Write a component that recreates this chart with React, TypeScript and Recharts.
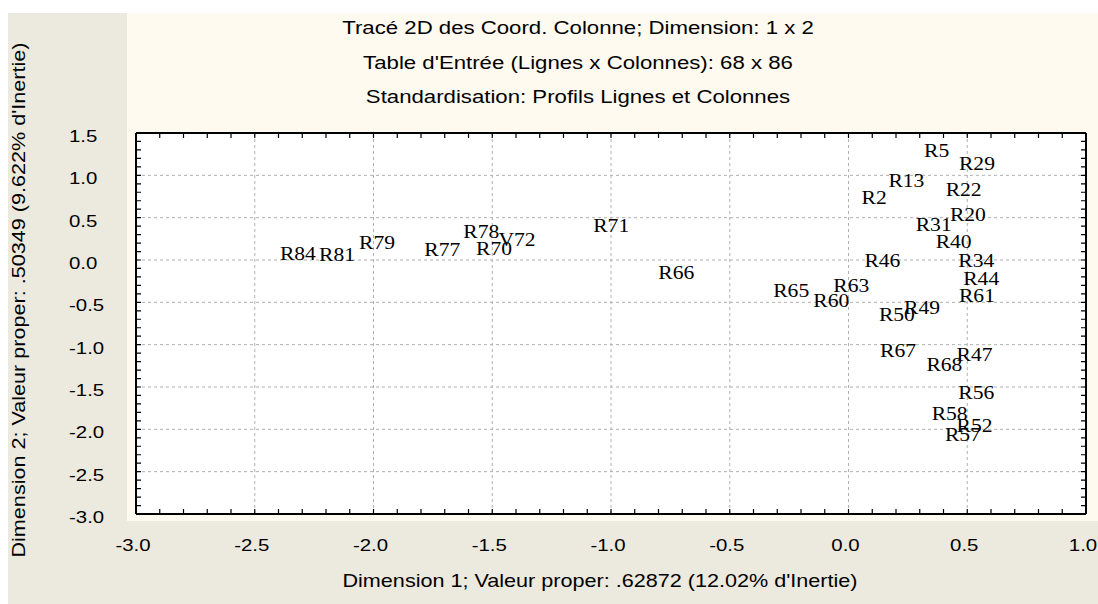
import React from 'react';
import { ScatterChart, Scatter, XAxis, YAxis, CartesianGrid } from 'recharts';

const titleLines = [
  'Tracé 2D des Coord. Colonne; Dimension: 1 x 2',
  "Table d'Entrée (Lignes x Colonnes): 68 x 86",
  'Standardisation: Profils Lignes et Colonnes',
];
const xTitle = "Dimension 1; Valeur proper: .62872 (12.02% d'Inertie)";
const yTitle = "Dimension 2; Valeur proper: .50349 (9.622% d'Inertie)";

const xTicks = [-3, -2.5, -2, -1.5, -1, -0.5, 0, 0.5, 1];
const yTicks = [1.5, 1, 0.5, 0, -0.5, -1, -1.5, -2, -2.5, -3];

const labels = [
  'R5', 'R29', 'R13', 'R22', 'R2', 'R20', 'R31', 'R40', 'R46', 'R34', 'R44',
  'R63', 'R65', 'R61', 'R60', 'R49', 'R50', 'R67', 'R47', 'R68', 'R56', 'R58',
  'R52', 'R57', 'R84', 'R81', 'R79', 'R77', 'R78', 'V72', 'R70', 'R71', 'R66',
];
const dim1 = [
  0.318, 0.465, 0.168, 0.409, 0.055, 0.427, 0.283, 0.367, 0.067, 0.462, 0.483,
  -0.064, -0.317, 0.465, -0.148, 0.234, 0.128, 0.133, 0.455, 0.328, 0.462, 0.35,
  0.455, 0.406, -2.394, -2.229, -2.061, -1.786, -1.622, -1.474, -1.568, -1.075, -0.801,
];
const dim2 = [
  1.29, 1.143, 0.937, 0.827, 0.736, 0.532, 0.414, 0.217, -0.011, -0.011, -0.224,
  -0.303, -0.365, -0.424, -0.483, -0.563, -0.641, -1.074, -1.121, -1.239, -1.566, -1.81,
  -1.959, -2.065, 0.08, 0.068, 0.205, 0.119, 0.335, 0.237, 0.13, 0.406, -0.149,
];

const points = labels.map((name, i) => ({ name, x: dim1[i], y: dim2[i] }));

// minor tick positions every 0.1
const minorX: number[] = [];
for (let i = -30; i <= 10; i++) minorX.push(i / 10);
const minorY: number[] = [];
for (let i = -30; i <= 15; i++) minorY.push(i / 10);

const isMajor = (v: number) => Math.abs(v * 2 - Math.round(v * 2)) < 1e-6;

const SANS = '"Liberation Sans", Arial, sans-serif';
const SERIF = '"Liberation Serif", "Times New Roman", serif';
const STRETCH = 1.2;
const PLOT = { left: 136, right: 1086, top: 133, bottom: 514 };
const TICK = 5;

function SText({ x, y, size, children, anchor = 'middle', family = SANS, rotate = 0 }: any) {
  return (
    <g transform={`translate(${x},${y}) rotate(${rotate}) scale(${STRETCH},1)`}>
      <text x={0} y={0} textAnchor={anchor} dominantBaseline="central" fontSize={size} fontFamily={family} fill="#000">
        {children}
      </text>
    </g>
  );
}

// bottom axis tick: inward tick marks on bottom and top edges, label on majors
const XTick = (props: any) => {
  const v = props.payload.value;
  const x = props.x;
  return (
    <g>
      <path d={`M${x},${PLOT.bottom}V${PLOT.bottom - TICK}M${x},${PLOT.top}V${PLOT.top + TICK}`} stroke="#000" strokeWidth={1.2} fill="none" />
      {isMajor(v) && <SText x={x - 3} y={545} size={17}>{v.toFixed(1)}</SText>}
    </g>
  );
};

const YTick = (props: any) => {
  const v = props.payload.value;
  const y = props.y;
  return (
    <g>
      <path d={`M${PLOT.left},${y}H${PLOT.left + TICK}M${PLOT.right},${y}H${PLOT.right - TICK}`} stroke="#000" strokeWidth={1.2} fill="none" />
      {isMajor(v) && <SText x={69} y={y + 3} size={17} anchor="start">{v.toFixed(1)}</SText>}
    </g>
  );
};
const NoLabel = () => <g />;

const PointLabel = (props: any) => (
  <SText x={props.cx} y={props.cy} size={18} anchor="start" family={SERIF}>{props.payload.name}</SText>
);

const frame = { stroke: '#000', strokeWidth: 2 };

export default function App() {
  return (
    <div style={{ position: 'absolute', left: 0, top: 0, width: 1098, height: 604, background: '#fff' }}>
      <div style={{ position: 'absolute', left: 8, top: 13, width: 1090, height: 591, background: '#ECE9DF' }} />
      <div style={{ position: 'absolute', left: 127, top: 13, width: 971, height: 508, background: '#FEFAF0' }} />
      <div style={{ position: 'absolute', left: 136, top: 133, width: 950, height: 381, background: '#fff' }} />
      <svg style={{ position: 'absolute', left: 0, top: 0 }} width={1098} height={604}>
        {titleLines.map((t, i) => (
          <SText key={i} x={578} y={28 + i * 34.5} size={18.5}>{t}</SText>
        ))}
        <SText x={600} y={581} size={18}>{xTitle}</SText>
        <SText x={19} y={300} size={18} rotate={-90}>{yTitle}</SText>
      </svg>
      <div style={{ position: 'absolute', left: 0, top: 0 }}>
        <ScatterChart width={1098} height={604} margin={{ top: 132, right: 11, bottom: 89, left: 135 }}>
          <CartesianGrid xAxisId="t" yAxisId="r" stroke="#b0b0b0" strokeDasharray="3 3" fill="none" />
          <XAxis xAxisId="b" dataKey="x" type="number" domain={[-3, 1]} allowDataOverflow ticks={minorX}
            height={1} tickLine={false} axisLine={frame} tick={XTick} interval={0} />
          <XAxis xAxisId="t" dataKey="x" type="number" domain={[-3, 1]} allowDataOverflow ticks={xTicks} orientation="top"
            height={1} tickLine={false} tick={NoLabel} axisLine={frame} interval={0} />
          <YAxis yAxisId="l" dataKey="y" type="number" domain={[-3, 1.5]} allowDataOverflow ticks={minorY}
            width={1} tickLine={false} axisLine={frame} tick={YTick} interval={0} />
          <YAxis yAxisId="r" dataKey="y" type="number" domain={[-3, 1.5]} allowDataOverflow ticks={yTicks} orientation="right"
            width={1} tickLine={false} tick={NoLabel} axisLine={frame} interval={0} />
          {/* invisible series so the top/right axes get a scale */}
          <Scatter xAxisId="t" yAxisId="r" data={points} shape={NoLabel} isAnimationActive={false} />
          <Scatter xAxisId="b" yAxisId="l" data={points} shape={PointLabel} isAnimationActive={false} />
        </ScatterChart>
      </div>
    </div>
  );
}
